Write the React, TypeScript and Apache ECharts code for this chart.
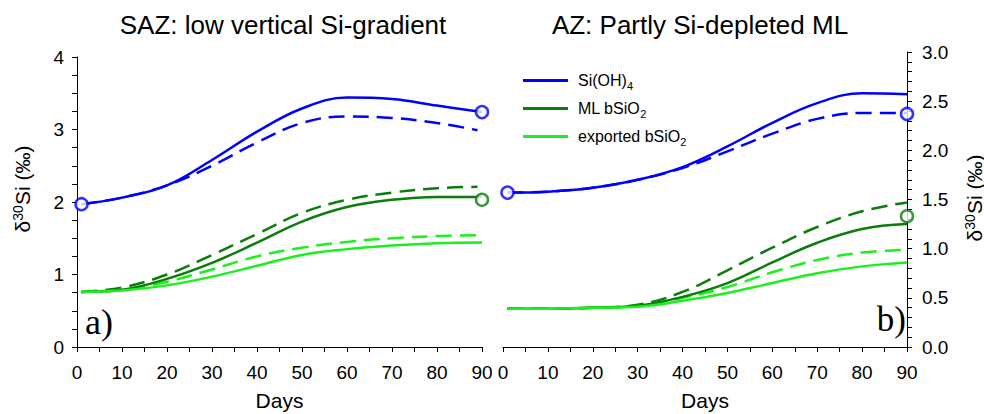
import React, { useEffect, useRef } from "react";
import * as echarts from "echarts";

// ---- data ----
const days = [1, 10, 20, 30, 40, 50, 60, 70, 80, 90];
const daysDashA = [1, 10, 20, 30, 40, 50, 60, 70, 80, 89];

// Panel a) SAZ
const blueSolidA = [1.97, 2.06, 2.23, 2.58, 2.97, 3.29, 3.44, 3.42, 3.33, 3.24];
const blueDashA = [1.97, 2.06, 2.23, 2.5, 2.82, 3.09, 3.18, 3.16, 3.09, 2.99];
const darkSolidA = [0.76, 0.79, 0.94, 1.16, 1.44, 1.73, 1.93, 2.03, 2.07, 2.07];
const darkDashA = [0.76, 0.82, 1.0, 1.27, 1.56, 1.85, 2.03, 2.13, 2.19, 2.21];
const lightSolidA = [0.76, 0.78, 0.85, 0.97, 1.12, 1.27, 1.35, 1.4, 1.43, 1.44];
const lightDashA = [0.76, 0.79, 0.9, 1.07, 1.25, 1.37, 1.45, 1.5, 1.53, 1.54];
const blueMarksA = [[1, 1.97], [90, 3.24]];
const darkMarksA = [[90, 2.03]];

// Panel b) AZ
const blueSolidB = [1.57, 1.58, 1.62, 1.7, 1.83, 2.04, 2.28, 2.48, 2.58, 2.57];
const blueDashB = [1.57, 1.58, 1.62, 1.7, 1.82, 1.99, 2.17, 2.32, 2.38, 2.38];
const darkSolidB = [0.39, 0.39, 0.4, 0.42, 0.51, 0.65, 0.86, 1.06, 1.2, 1.25];
const darkDashB = [0.39, 0.39, 0.4, 0.43, 0.56, 0.78, 1.01, 1.22, 1.38, 1.47];
const lightSolidB = [0.39, 0.39, 0.4, 0.41, 0.47, 0.55, 0.65, 0.75, 0.82, 0.86];
const lightDashB = [0.39, 0.39, 0.4, 0.42, 0.5, 0.61, 0.76, 0.885, 0.96, 0.99];
const blueMarksB = [[1, 1.57], [90, 2.37]];
const darkMarksB = [[90, 1.33]];

const titles = ["SAZ: low vertical Si-gradient", "AZ: Partly Si-depleted ML"];
const legendNames = ["Si(OH)4", "ML bSiO2", "exported bSiO2"];

const BLUE = "#0000ff";
const DARK = "#0b7d0b";
const LIGHT = "#1cf01c";
const FONT = "Liberation Sans, Arial, sans-serif";

const pair = (xs: number[], ys: number[]) => xs.map((x, i) => [x, ys[i]]);

export default function App() {
  const ref = useRef<HTMLDivElement>(null);
  useEffect(() => {
    if (!ref.current) return;
    const chart = echarts.init(ref.current, null, { renderer: "svg" });

    const line = (name: string, data: number[][], color: string, dashed: boolean, idx: number, z: number) => ({
      name,
      type: "line",
      xAxisIndex: idx,
      yAxisIndex: idx,
      data,
      smooth: 0.4,
      showSymbol: false,
      symbol: "none",
      z,
      lineStyle: { color, width: 2.5, type: dashed ? [16, 8] : "solid" },
      itemStyle: { color },
    });
    const marks = (data: number[][], color: string, idx: number) => ({
      type: "scatter",
      xAxisIndex: idx,
      yAxisIndex: idx,
      data,
      symbol: "circle",
      symbolSize: 12,
      z: 10,
      itemStyle: { color: "#fff", borderColor: color, borderWidth: 2.5 },
    });

    const xAxisBase = (gridIndex: number) => ({
      type: "value",
      gridIndex,
      min: 0,
      max: 90,
      interval: 10,
      name: "Days",
      nameLocation: "middle",
      nameGap: 43,
      nameTextStyle: { fontFamily: FONT, fontSize: 21, color: "#000" },
      axisLine: { show: true, onZero: false, lineStyle: { color: "#000", width: 1 } },
      axisTick: { show: true, inside: false, length: 5, lineStyle: { color: "#000" } },
      minorTick: { show: true, splitNumber: 2, length: 5, lineStyle: { color: "#000" } },
      splitLine: { show: false },
      minorSplitLine: { show: false },
      axisLabel: { fontFamily: FONT, fontSize: 19, color: "#000", margin: 16 },
    });

    const option: any = {
      animation: false,
      backgroundColor: "#fff",
      grid: [
        { left: 77, top: 57, width: 405, height: 290, outerBoundsMode: "none", containLabel: false },
        { left: 503, top: 52, width: 404, height: 295, outerBoundsMode: "none", containLabel: false },
      ],
      xAxis: [xAxisBase(0), xAxisBase(1)],
      yAxis: [
        {
          type: "value",
          gridIndex: 0,
          min: 0,
          max: 4,
          interval: 1,
          position: "left",
          axisLine: { show: true, onZero: false, lineStyle: { color: "#000", width: 1 } },
          axisTick: { show: true, inside: false, length: 5, lineStyle: { color: "#000" } },
          minorTick: { show: true, splitNumber: 4, length: 5, lineStyle: { color: "#000" } },
          splitLine: { show: false },
          minorSplitLine: { show: false },
          axisLabel: { fontFamily: FONT, fontSize: 19, color: "#000", margin: 13 },
        },
        {
          type: "value",
          gridIndex: 1,
          min: 0,
          max: 3,
          interval: 0.5,
          position: "right",
          axisLine: { show: true, onZero: false, lineStyle: { color: "#000", width: 1 } },
          axisTick: { show: true, inside: false, length: 5, lineStyle: { color: "#000" } },
          minorTick: { show: true, splitNumber: 5, length: 5, lineStyle: { color: "#000" } },
          splitLine: { show: false },
          minorSplitLine: { show: false },
          axisLabel: {
            fontFamily: FONT,
            fontSize: 19,
            color: "#000",
            margin: 15,
            formatter: (v: number) => v.toFixed(1),
          },
        },
      ],
      legend: {
        orient: "vertical",
        left: 518,
        top: 65,
        itemWidth: 45,
        itemHeight: 3,
        itemGap: 7,
        icon: "rect",
        data: legendNames,
        textStyle: {
          fontFamily: FONT,
          fontSize: 16,
          color: "#000",
          lineHeight: 20,
          padding: [0, 0, 0, 5],
          rich: {
            sub: { fontFamily: FONT, fontSize: 11, color: "#000", lineHeight: 20, padding: [10, 0, 0, 0] },
          },
        },
        formatter: (n: string) =>
          n === "Si(OH)4" ? "Si(OH){sub|4}" : n === "ML bSiO2" ? "ML bSiO{sub|2}" : "exported bSiO{sub|2}",
      },
      graphic: [
        {
          type: "text",
          x: 283,
          y: 25,
          style: { text: titles[0], fontFamily: FONT, fontSize: 26, fill: "#000", align: "center", verticalAlign: "middle" },
        },
        {
          type: "text",
          x: 700,
          y: 25,
          style: { text: titles[1], fontFamily: FONT, fontSize: 26, fill: "#000", align: "center", verticalAlign: "middle" },
        },
        {
          type: "text",
          x: 22,
          y: 189,
          rotation: Math.PI / 2,
          style: {
            text: "δ{sup|30}Si (‰)",
            fontFamily: FONT,
            fontSize: 21,
            fill: "#000",
            align: "center",
            verticalAlign: "middle",
            rich: { sup: { fontFamily: FONT, fontSize: 14, fill: "#000", verticalAlign: "top", padding: [0, 0, 8, 0] } },
          },
        },
        {
          type: "text",
          x: 974,
          y: 198,
          rotation: Math.PI / 2,
          style: {
            text: "δ{sup|30}Si (‰)",
            fontFamily: FONT,
            fontSize: 21,
            fill: "#000",
            align: "center",
            verticalAlign: "middle",
            rich: { sup: { fontFamily: FONT, fontSize: 14, fill: "#000", verticalAlign: "top", padding: [0, 0, 8, 0] } },
          },
        },
        {
          type: "text",
          x: 85,
          y: 340,
          style: { text: "a)", fontFamily: "Liberation Serif, Times New Roman, serif", fontSize: 36, fill: "#000", align: "left", verticalAlign: "bottom" },
        },
        {
          type: "text",
          x: 906,
          y: 337,
          style: { text: "b)", fontFamily: "Liberation Serif, Times New Roman, serif", fontSize: 35, fill: "#000", align: "right", verticalAlign: "bottom" },
        },
      ],
      series: [
        line("Si(OH)4 dashed a", pair(daysDashA, blueDashA), BLUE, true, 0, 2),
        line("ML bSiO2 dashed a", pair(daysDashA, darkDashA), DARK, true, 0, 2),
        line("exported bSiO2 dashed a", pair(daysDashA, lightDashA), LIGHT, true, 0, 2),
        line("Si(OH)4", pair(days, blueSolidA), BLUE, false, 0, 3),
        line("ML bSiO2", pair(days, darkSolidA), DARK, false, 0, 3),
        line("exported bSiO2", pair(days, lightSolidA), LIGHT, false, 0, 3),
        marks(blueMarksA, BLUE, 0),
        marks(darkMarksA, DARK, 0),
        line("Si(OH)4 dashed b", pair(days, blueDashB), BLUE, true, 1, 2),
        line("ML bSiO2 dashed b", pair(days, darkDashB), DARK, true, 1, 2),
        line("exported bSiO2 dashed b", pair(days, lightDashB), LIGHT, true, 1, 2),
        line("Si(OH)4", pair(days, blueSolidB), BLUE, false, 1, 3),
        line("ML bSiO2", pair(days, darkSolidB), DARK, false, 1, 3),
        line("exported bSiO2", pair(days, lightSolidB), LIGHT, false, 1, 3),
        marks(blueMarksB, BLUE, 1),
        marks(darkMarksB, DARK, 1),
      ],
    };
    chart.setOption(option);
    return () => chart.dispose();
  }, []);
  return <div ref={ref} style={{ position: "absolute", left: 0, top: 0, width: 984, height: 414 }} />;
}
